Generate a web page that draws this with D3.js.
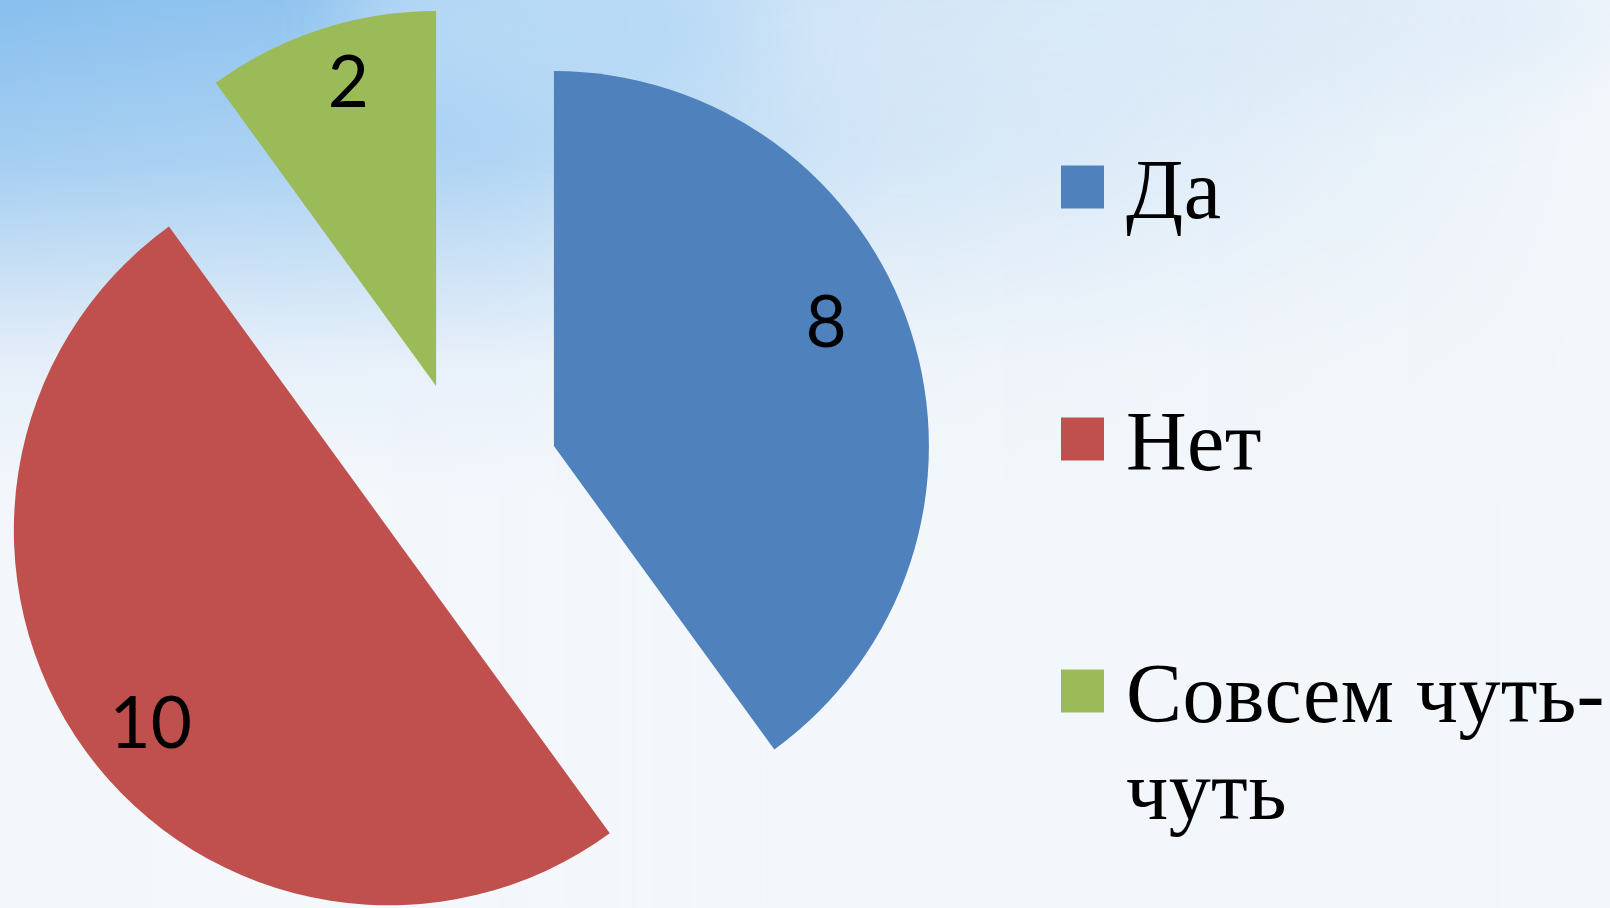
<!DOCTYPE html>
<html>
<head>
<meta charset="utf-8">
<script src="https://cdn.jsdelivr.net/npm/d3@7"></script>
<style>
  html, body { margin: 0; padding: 0; overflow: hidden; background: #f3f7fb; }
</style>
</head>
<body>
<div id="chart"></div>
<script>
// data
var categories = ["Да", "Нет", "Совсем чуть-чуть"];
var values = [8, 10, 2];
var colors = ["#4f81bd", "#c0504d", "#9bbb59"];

function init() {

	var w = 1610;
	var h = 908;

	var cx = 465, cy = 475;
	var radius = 375;
	var explode = 93.5;

	var svg = d3.select("#chart")
				.append("svg")
				.attr("width", w)
				.attr("height", h);

	// background - pale sky, bluer in the top left corner
	var defs = svg.append("defs");

	var vGrad = defs.append("linearGradient")
					.attr("id", "skyV")
					.attr("x1", 0).attr("y1", 0).attr("x2", 0).attr("y2", 1);
	vGrad.append("stop").attr("offset", "0%").attr("stop-color", "#88bfee");
	vGrad.append("stop").attr("offset", "18%").attr("stop-color", "#a6cff2");
	vGrad.append("stop").attr("offset", "30%").attr("stop-color", "#c9e0f5");
	vGrad.append("stop").attr("offset", "40%").attr("stop-color", "#e6eff9");
	vGrad.append("stop").attr("offset", "55%").attr("stop-color", "#f3f7fb");

	var hGrad = defs.append("linearGradient")
					.attr("id", "fadeH")
					.attr("x1", 0).attr("y1", 0).attr("x2", 1).attr("y2", 0);
	hGrad.append("stop").attr("offset", "0%").attr("stop-color", "#fff");
	hGrad.append("stop").attr("offset", "30%").attr("stop-color", "#ddd");
	hGrad.append("stop").attr("offset", "55%").attr("stop-color", "#666");
	hGrad.append("stop").attr("offset", "85%").attr("stop-color", "#222");
	hGrad.append("stop").attr("offset", "100%").attr("stop-color", "#000");

	defs.append("mask").attr("id", "skyMask")
		.append("rect")
		.attr("width", w).attr("height", h)
		.attr("fill", "url(#fadeH)");

	defs.append("filter").attr("id", "blur")
		.attr("x", "-50%").attr("y", "-50%").attr("width", "200%").attr("height", "200%")
		.append("feGaussianBlur").attr("stdDeviation", 40);

	svg.append("rect")
		.attr("width", w).attr("height", h)
		.attr("fill", "#f3f7fb");

	svg.append("rect")
		.attr("width", w).attr("height", h)
		.attr("fill", "url(#skyV)")
		.attr("mask", "url(#skyMask)");

	// soft light band along the top right
	svg.append("ellipse")
		.attr("cx", 1000).attr("cy", 20).attr("rx", 650).attr("ry", 90)
		.attr("fill", "#dbeaf8")
		.attr("opacity", 0.6)
		.attr("filter", "url(#blur)");
	svg.append("ellipse")
		.attr("cx", 560).attr("cy", 30).attr("rx", 200).attr("ry", 90)
		.attr("fill", "#b4d8f6")
		.attr("opacity", 0.8)
		.attr("filter", "url(#blur)");

	// pie
	var pie = d3.pie()
				.sort(null)
				.value(function(d){ return d; });

	var arc = d3.arc()
				.innerRadius(0)
				.outerRadius(radius);

	var arcs = pie(values);

	function offset(d) {
		var mid = (d.startAngle + d.endAngle) / 2;
		return [explode * Math.sin(mid), -explode * Math.cos(mid)];
	}

	var slices = svg.append("g")
					.attr("transform", "translate(" + cx + "," + cy + ")")
					.selectAll("g")
					.data(arcs)
					.enter()
					.append("g")
					.attr("transform", function(d){
						var o = offset(d);
						return "translate(" + o[0] + "," + o[1] + ")";
					});

	slices.append("path")
		.attr("d", arc)
		.attr("fill", function(d,i){ return colors[i]; });

	// value labels (small nudges like PowerPoint's best fit)
	var labelNudge = [-6.3, -3.2, 1.8];
	var labelFrac = [0.796, 0.821, 0.84];

	function labelPos(d, i) {
		var a = (d.startAngle + d.endAngle) / 2 + labelNudge[i] * Math.PI / 180;
		var r = radius * labelFrac[i];
		return [r * Math.sin(a), -r * Math.cos(a)];
	}

	slices.append("text")
		.attr("x", function(d,i){ return labelPos(d, i)[0]; })
		.attr("y", function(d,i){ return labelPos(d, i)[1]; })
		.attr("dy", "0.33em")
		.attr("text-anchor", "middle")
		.style("font-family", "Lato, 'Open Sans', sans-serif")
		.style("font-size", "71px")
		.attr("fill", "#000")
		.text(function(d){ return d.data; });

	// legend
	var legendX = 1061;
	var legendTop = 187;
	var legendStep = 252;
	var sw = 43;
	var maxTextW = 545;

	var legend = svg.append("g")
					.selectAll("g")
					.data(categories)
					.enter()
					.append("g")
					.attr("transform", function(d,i){
						return "translate(" + legendX + "," + (legendTop + i * legendStep) + ")";
					});

	legend.append("rect")
		.attr("x", 0)
		.attr("y", -sw / 2)
		.attr("width", sw)
		.attr("height", sw)
		.attr("fill", function(d,i){ return colors[i]; });

	legend.append("text")
		.attr("x", 65)
		.attr("y", 31)
		.style("font-family", "'Liberation Serif', 'Times New Roman', serif")
		.style("font-size", "84px")
		.style("letter-spacing", "0.4px")
		.attr("fill", "#000")
		.each(function(d){
			var text = d3.select(this);
			// break after spaces or hyphens when the line gets too long
			var parts = d.match(/[^\s-]+[\s-]?/g);
			var line = "";
			var tspan = text.append("tspan").attr("x", 65);
			parts.forEach(function(p){
				var test = line + p;
				tspan.text(test.trim());
				if (tspan.node().getComputedTextLength() > maxTextW && line !== "") {
					tspan.text(line.trim());
					tspan = text.append("tspan").attr("x", 65).attr("dy", 97);
					line = p;
					tspan.text(line.trim());
				} else {
					line = test;
				}
			});
		});

}

window.onload = init;
</script>
</body>
</html>
